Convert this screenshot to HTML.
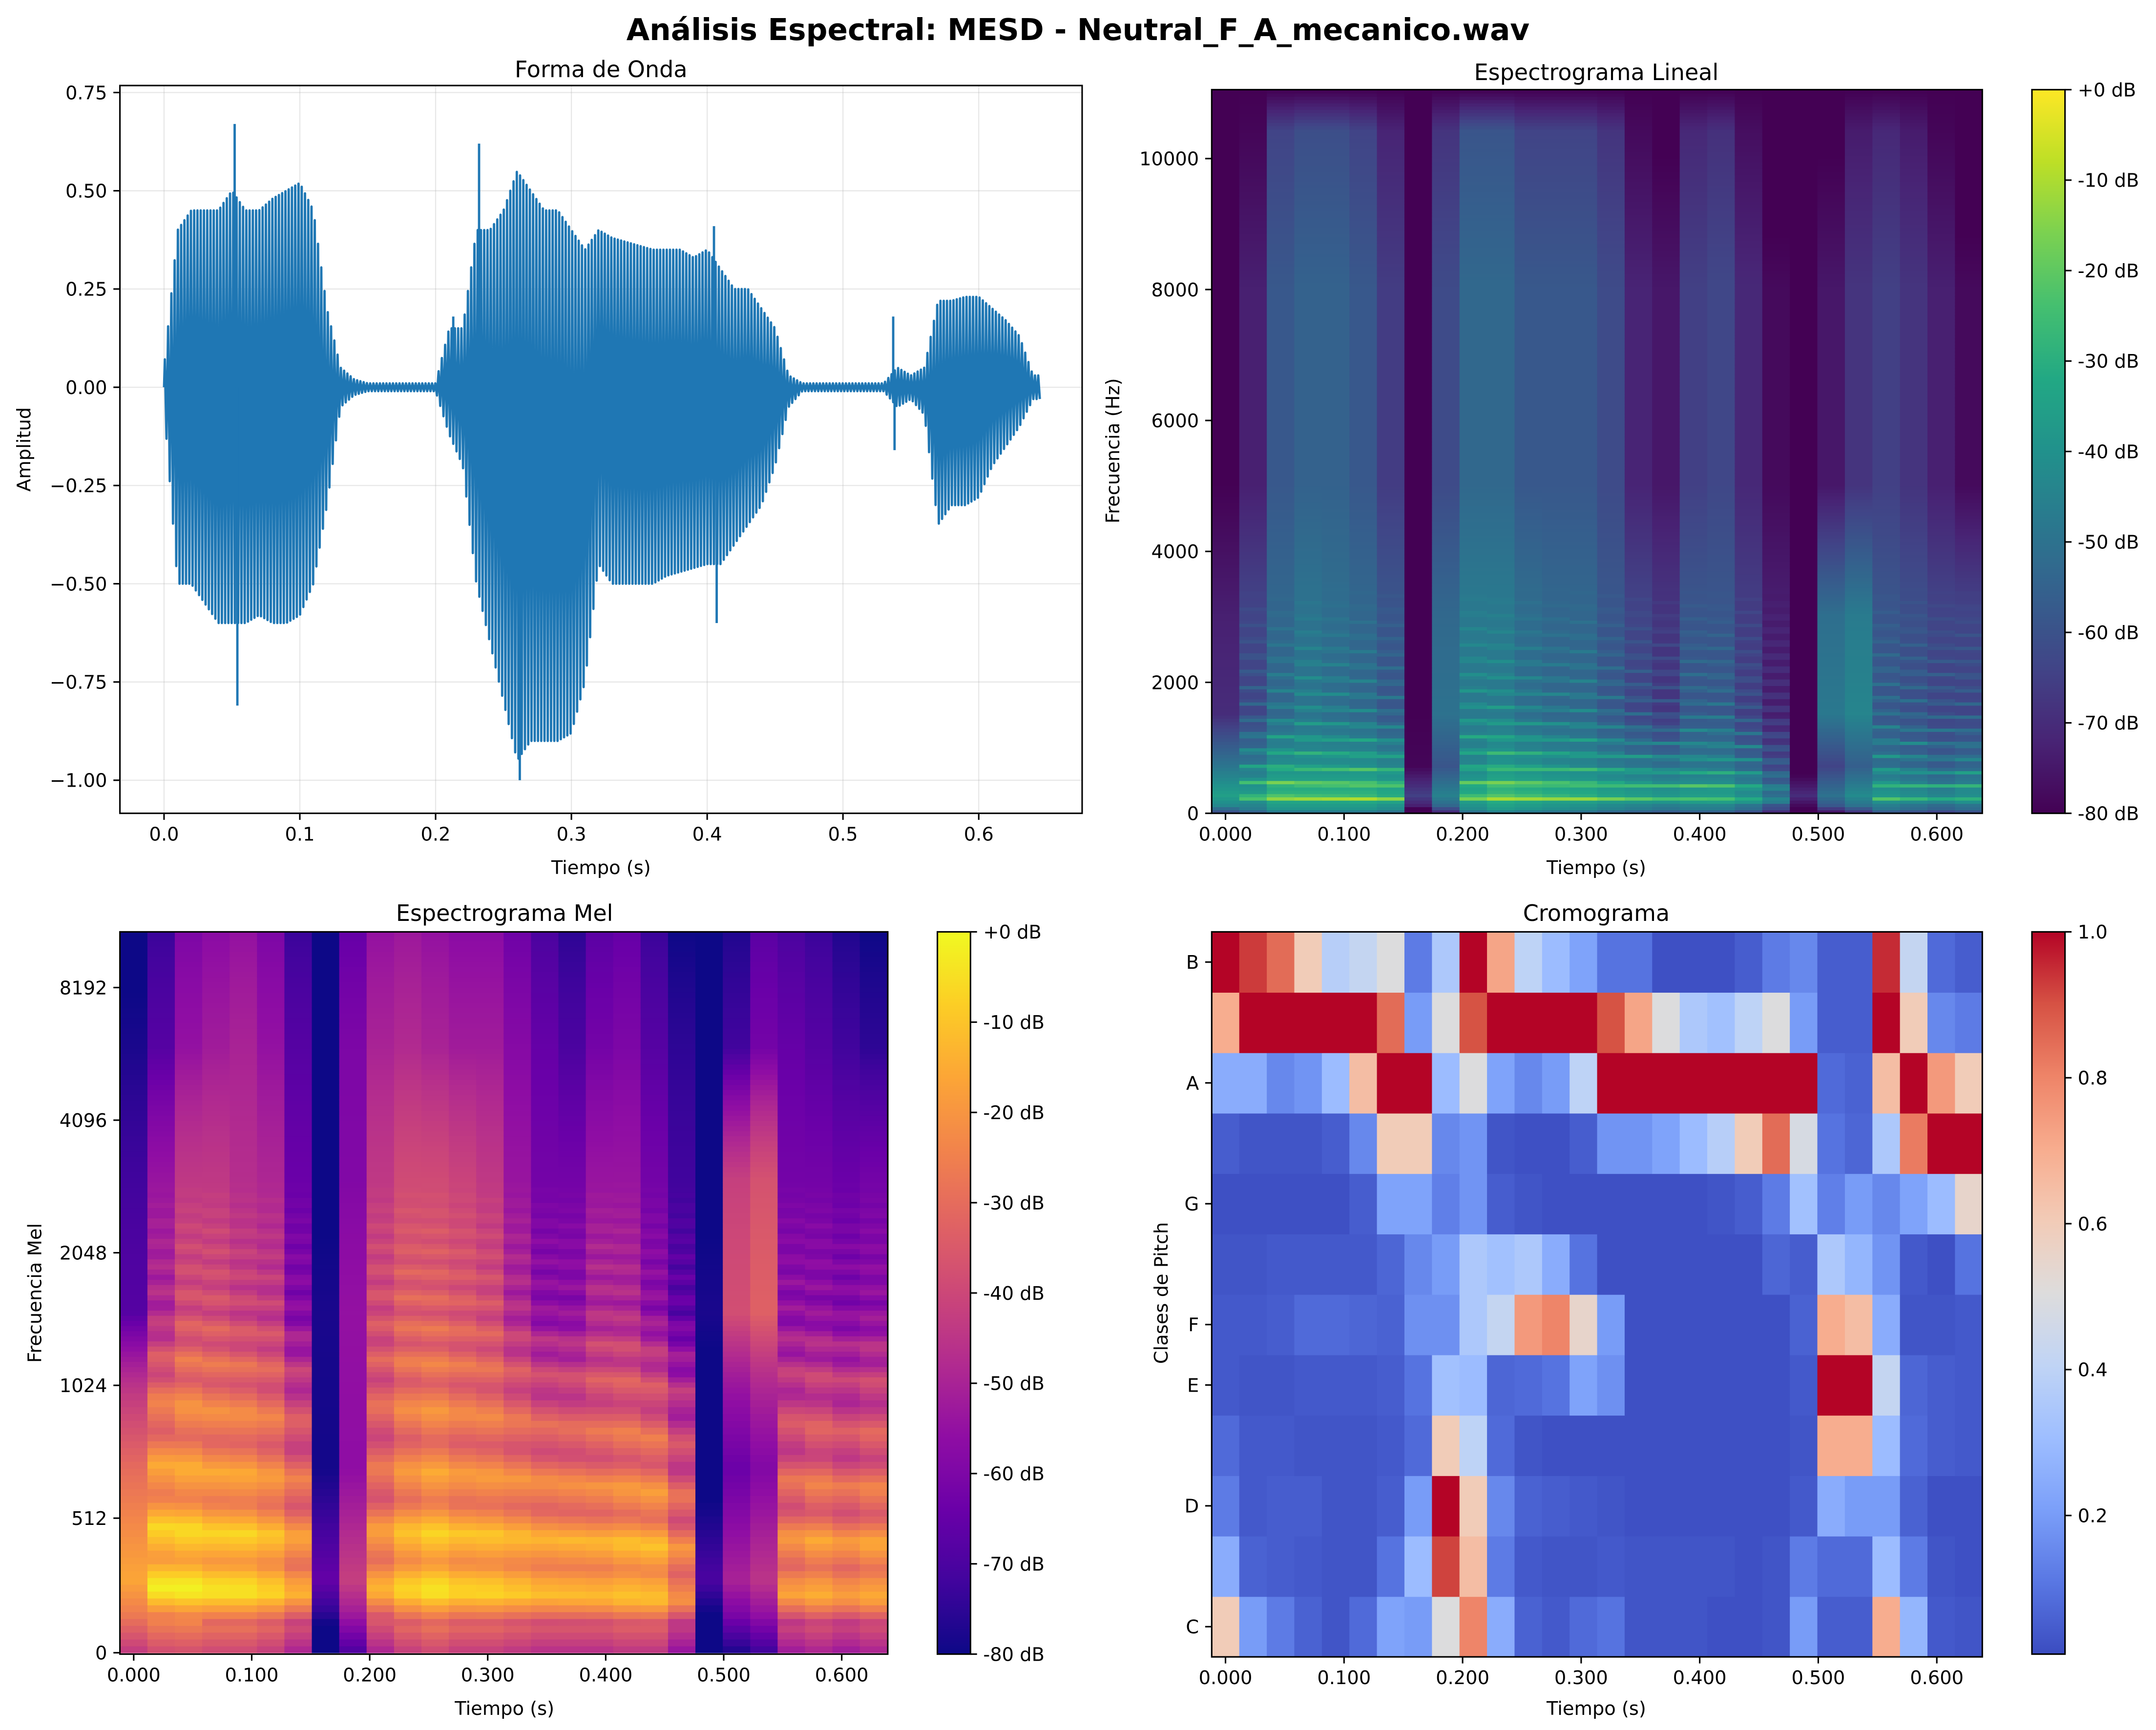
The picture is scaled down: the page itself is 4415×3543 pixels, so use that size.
<!DOCTYPE html>
<html><head><meta charset="utf-8">
<style>
html,body{margin:0;padding:0;background:#fff;}
svg{display:block;font-family:"DejaVu Sans","Liberation Sans",sans-serif;}
</style></head>
<body>
<svg id="fig" xmlns="http://www.w3.org/2000/svg" width="4415" height="3543" viewBox="0 0 1564 1255">
<rect x="0" y="0" width="1564" height="1255" fill="#fff"/>
<text x="782" y="29" text-anchor="middle" font-size="21.7" font-weight="bold">Análisis Espectral: MESD - Neutral_F_A_mecanico.wav</text>
<g id="g-wave"></g>
<g id="g-lin"></g>
<g id="g-mel"></g>
<g id="g-chroma"></g>
</svg>
<script>
// ---------- DATA ----------
const wTimes = [];for(let k=0;k<=64;k++)wTimes.push(k/100);
const wPos = [0.05,0.40,0.45,0.45,0.45,0.50,0.45,0.45,0.48,0.50,0.52,0.45,0.20,0.05,0.02,0.01,0.01,0.01,0.01,0.01,0.01,0.15,0.15,0.40,0.40,0.45,0.55,0.50,0.45,0.45,0.40,0.35,0.40,0.38,0.37,0.36,0.35,0.35,0.35,0.33,0.35,0.30,0.25,0.25,0.20,0.15,0.03,0.01,0.01,0.01,0.01,0.01,0.01,0.01,0.05,0.03,0.05,0.22,0.22,0.23,0.23,0.20,0.17,0.13,0.03];
const wNeg = [-0.05,-0.50,-0.50,-0.55,-0.60,-0.60,-0.60,-0.58,-0.60,-0.60,-0.58,-0.50,-0.30,-0.05,-0.02,-0.01,-0.01,-0.01,-0.01,-0.01,-0.01,-0.12,-0.20,-0.50,-0.65,-0.80,-0.95,-0.90,-0.90,-0.90,-0.88,-0.75,-0.45,-0.50,-0.50,-0.50,-0.50,-0.48,-0.47,-0.46,-0.45,-0.45,-0.40,-0.35,-0.30,-0.20,-0.05,-0.01,-0.01,-0.01,-0.01,-0.01,-0.01,-0.01,-0.05,-0.03,-0.07,-0.35,-0.30,-0.30,-0.28,-0.20,-0.15,-0.10,-0.03];
const spikeT = [0.052,0.054,0.213,0.232,0.262,0.405,0.407,0.537,0.538];
const spikeV = [0.67,-0.81,0.18,0.62,-1.0,0.41,-0.60,0.18,-0.16];
const wXTicks = [0,0.1,0.2,0.3,0.4,0.5,0.6];
const wXLabels = ["0.0","0.1","0.2","0.3","0.4","0.5","0.6"];
const wYTicks = [0.75,0.5,0.25,0,-0.25,-0.5,-0.75,-1.0];
const wYLabels = ["0.75","0.50","0.25","0.00","\u22120.25","\u22120.50","\u22120.75","\u22121.00"];

const linLow  = [-35,-30,-22,-22,-22,-22,-25,-65,-45,-25,-20,-22,-24,-25,-28,-30,-32,-30,-30,-35,-45,-70,-50,-42,-32,-35,-38,-35];
const linMid  = [-70,-60,-50,-46,-48,-50,-55,-80,-50,-44,-44,-48,-50,-50,-55,-60,-64,-55,-55,-62,-70,-80,-48,-44,-55,-57,-60,-60];
const linHigh = [-80,-73,-58,-55,-55,-58,-66,-80,-62,-53,-53,-58,-58,-58,-62,-72,-75,-65,-63,-71,-78,-80,-75,-68,-65,-68,-73,-78];
const pitchF0 = [0,240,235,230,228,225,222,0,0,235,232,230,228,225,222,218,215,212,210,205,200,0,0,0,220,215,212,210];
const melLow  = [-16,-11,-10,-12,-12,-15,-22,-65,-42,-22,-15,-12,-15,-15,-17,-19,-19,-19,-17,-17,-27,-70,-50,-45,-25,-22,-25,-22];
const melMid  = [-68,-50,-40,-40,-43,-45,-60,-78,-55,-40,-35,-35,-37,-40,-50,-58,-58,-50,-50,-58,-68,-78,-38,-33,-58,-58,-60,-58];
const melHigh = [-78,-68,-55,-52,-50,-55,-68,-80,-60,-50,-48,-50,-52,-52,-58,-65,-70,-62,-60,-68,-75,-80,-72,-62,-65,-68,-72,-75];
const specXTicks = [0,0.1,0.2,0.3,0.4,0.5,0.6];
const specXLabels = ["0.000","0.100","0.200","0.300","0.400","0.500","0.600"];
const linYTicks = [0,2000,4000,6000,8000,10000];
const melYTicks = [0,512,1024,2048,4096,8192];
const dbTicks = [0,-10,-20,-30,-40,-50,-60,-70,-80];

const chromaB  = [1,.93,.85,.6,.38,.42,.5,.12,.35,1,.72,.4,.3,.22,.1,.1,.02,.02,.02,.05,.12,.15,.05,.05,.95,.42,.08,.05];
const chromaAs = [.7,1,1,1,1,1,.85,.2,.5,.9,1,1,1,1,.9,.72,.5,.35,.32,.4,.5,.2,.05,.05,1,.6,.15,.12];
const chromaA  = [.25,.25,.15,.18,.3,.65,1,1,.3,.5,.22,.15,.2,.4,1,1,1,1,1,1,1,1,.08,.06,.65,1,.75,.6];
const chromaGs = [.05,.03,.03,.03,.05,.15,.6,.6,.15,.18,.03,.02,.02,.05,.18,.18,.22,.3,.38,.6,.85,.48,.1,.07,.35,.82,1,1];
const chromaG  = [.02,.02,.02,.02,.02,.05,.22,.22,.13,.18,.05,.03,.02,.02,.02,.02,.02,.02,.03,.05,.12,.32,.13,.2,.15,.22,.3,.55];
const chromaFs = [.03,.03,.04,.04,.04,.04,.07,.15,.2,.35,.32,.35,.25,.1,.02,.02,.02,.02,.02,.02,.07,.05,.35,.28,.18,.04,.02,.1];
const chromaF  = [.04,.04,.05,.08,.08,.07,.06,.17,.17,.35,.42,.75,.8,.55,.2,.02,.02,.02,.02,.02,.02,.06,.7,.65,.25,.03,.03,.04];
const chromaE  = [.04,.03,.03,.04,.04,.04,.05,.1,.32,.3,.07,.08,.1,.22,.17,.02,.02,.02,.02,.02,.02,.04,1,1,.42,.07,.05,.04];
const chromaDs = [.08,.04,.04,.03,.03,.03,.04,.08,.6,.4,.08,.03,.02,.02,.02,.02,.02,.02,.02,.02,.02,.03,.7,.7,.3,.08,.05,.04];
const chromaD  = [.12,.04,.05,.05,.03,.03,.05,.2,1,.6,.15,.06,.05,.04,.03,.02,.02,.02,.02,.02,.02,.04,.25,.2,.2,.06,.02,.02];
const chromaCs = [.25,.06,.05,.04,.03,.03,.1,.3,.92,.65,.12,.04,.03,.03,.04,.03,.03,.03,.03,.02,.03,.12,.08,.08,.3,.12,.03,.02];
const chromaC  = [.6,.2,.12,.06,.03,.08,.22,.2,.5,.8,.25,.06,.04,.08,.1,.03,.03,.03,.02,.02,.03,.2,.05,.05,.7,.28,.04,.03];
const chromaLabels = ["C","","D","","E","F","","G","","A","","B"];
const chromaCbTicks = [0.2,0.4,0.6,0.8,1.0];

// ---------- HELPERS ----------
const NS="http://www.w3.org/2000/svg";
function mk(parent,tag,attrs,text){const e=document.createElementNS(NS,tag);for(const k in attrs)e.setAttribute(k,attrs[k]);if(text!==undefined)e.textContent=text;parent.appendChild(e);return e;}
function hex(h){return [parseInt(h.substr(1,2),16),parseInt(h.substr(3,2),16),parseInt(h.substr(5,2),16)];}
function makeCmap(list){const c=list.map(hex);return function(v){v=Math.max(0,Math.min(1,v));const p=v*(c.length-1);const i=Math.min(c.length-2,Math.floor(p));const f=p-i;const a=c[i],b=c[i+1];return "rgb("+Math.round(a[0]+(b[0]-a[0])*f)+","+Math.round(a[1]+(b[1]-a[1])*f)+","+Math.round(a[2]+(b[2]-a[2])*f)+")";};}
const viridis=makeCmap(["#440154","#482475","#414487","#355f8d","#2a788e","#21918c","#22a884","#44bf70","#7ad151","#bddf26","#fde725"]);
const plasma=makeCmap(["#0d0887","#41049d","#6a00a8","#8f0da4","#b12a90","#cc4778","#e16462","#f2844b","#fca636","#fcce25","#f0f921"]);
const coolwarm=makeCmap(["#3b4cc0","#5977e3","#7b9ff9","#9ebeff","#c0d4f5","#dddcdc","#f2cbb7","#f7ac8e","#ee8468","#d65244","#b40426"]);
const FS=13.6, TL=4.75;

function frame(g,x0,y0,x1,y1,name){const r=mk(g,"rect",{x:x0,y:y0,width:x1-x0,height:y1-y0,fill:"none",stroke:"#000","stroke-width":1.1});}
function xTick(g,x,y,label){mk(g,"line",{x1:x,y1:y,x2:x,y2:y+TL,stroke:"#000","stroke-width":1.1});const t=mk(g,"text",{x:x,y:y+TL+4.75+10.3,"text-anchor":"middle","font-size":FS},label);}
function yTick(g,x,y,label){mk(g,"line",{x1:x-TL,y1:y,x2:x,y2:y,stroke:"#000","stroke-width":1.1});const t=mk(g,"text",{x:x-TL-4.5,y:y+4.9,"text-anchor":"end","font-size":FS},label);}
function rTick(g,x,y,label){mk(g,"line",{x1:x,y1:y,x2:x+TL,y2:y,stroke:"#000","stroke-width":1.1});const t=mk(g,"text",{x:x+TL+4.5,y:y+4.9,"text-anchor":"start","font-size":FS},label);}
function title(g,x,y,s){const t=mk(g,"text",{x:x,y:y,"text-anchor":"middle","font-size":16.3},s);}
function xlabel(g,x,y,s){const t=mk(g,"text",{x:x,y:y,"text-anchor":"middle","font-size":FS},s);}
function ylabel(g,x,y,s){const t=mk(g,"text",{x:x,y:y,"text-anchor":"middle","font-size":FS,transform:"rotate(-90 "+x+" "+y+")"},s);}
function colorbar(g,x0,y0,x1,y1,cmap,id){const defs=mk(g,"defs",{});const lg=mk(defs,"linearGradient",{id:id,x1:0,y1:1,x2:0,y2:0});for(let k=0;k<=20;k++)mk(lg,"stop",{offset:(k/20),"stop-color":cmap(k/20)});const r=mk(g,"rect",{x:x0,y:y0,width:x1-x0,height:y1-y0,fill:"url(#"+id+")"});frame(g,x0,y0,x1,y1,'colorbar-frame');}
function interp(xs,ys,x){if(x<=xs[0])return ys[0];for(let k=1;k<xs.length;k++){if(x<=xs[k]){const f=(x-xs[k-1])/(xs[k]-xs[k-1]);return ys[k-1]+(ys[k]-ys[k-1])*f;}}return ys[ys.length-1];}
function harm(f,f0,lim,amp,sharp){if(!f0||f>lim)return 0;const r=f/f0;if(Math.round(r)<1)return 0;const d=Math.abs(r-Math.round(r));const fade=1-f/lim;return amp*fade*Math.max(-0.4,1-sharp*d);}
const HOP=0.02322, NF=28;

// ---------- WAVEFORM ----------
(function(){
 const g=document.getElementById("g-wave");
 const X0=87,X1=785,Y0=62,Y1=590;
 const xs=t=>119+t*985, ys=v=>566-(v+1)*285.1;
 wXTicks.forEach(t=>{const l=mk(g,"line",{x1:xs(t),y1:Y0,x2:xs(t),y2:Y1,stroke:"#b0b0b0","stroke-opacity":0.3,"stroke-width":0.8});});
 wYTicks.forEach(v=>{const l=mk(g,"line",{x1:X0,y1:ys(v),x2:X1,y2:ys(v),stroke:"#b0b0b0","stroke-opacity":0.3,"stroke-width":0.8});});
 let pts=[];let sgn=1;const step=0.0012;const tEnd=wTimes[wTimes.length-1]+0.005;
 pts.push(xs(0).toFixed(2)+","+ys(0).toFixed(2));
 for(let t=step/2;t<tEnd;t+=step){const v=sgn>0?interp(wTimes,wPos,t):interp(wTimes,wNeg,t);pts.push(xs(t).toFixed(2)+","+ys(v).toFixed(2));sgn=-sgn;}
 const pl=mk(g,"polyline",{points:pts.join(" "),fill:"none",stroke:"#1f77b4","stroke-width":1.7,"stroke-linejoin":"round"});
 
 spikeT.forEach((t,k)=>{const l=mk(g,"line",{x1:xs(t),y1:ys(0),x2:xs(t),y2:ys(spikeV[k]),stroke:"#1f77b4","stroke-width":1.7});});
 frame(g,X0,Y0,X1,Y1,'waveform-axes');
 wXTicks.forEach((t,k)=>xTick(g,xs(t),Y1,wXLabels[k]));
 wYTicks.forEach((v,k)=>yTick(g,X0,ys(v),wYLabels[k]));
 title(g,436,56,"Forma de Onda");xlabel(g,436,634,"Tiempo (s)");ylabel(g,22,326,"Amplitud");
})();

// ---------- LINEAR SPECTROGRAM ----------
(function(){
 const g=document.getElementById("g-lin");
 const X0=879,X1=1438,Y0=65,Y1=590;
 const xs=t=>889+t*860, ys=f=>590-f*0.0475;
 const cells=mk(g,"g",{});
 const fA=[0,100,250,700,1500,3000,5000,8000,10400,11025];
 for(let i=0;i<NF;i++){
  const xa=Math.max(X0,xs((i-0.5)*HOP)),xb=Math.min(X1,xs((i+0.5)*HOP));
  const vA=[linLow[i]-25,linLow[i]-8,linLow[i],linLow[i]-14,linMid[i],linMid[i]-3,linHigh[i],linHigh[i],linHigh[i]-6,-80];
  for(let f=0;f<11025;f+=50){
   let v=interp(fA,vA,f)+harm(f+25,pitchF0[i],3500,16,6);
   v=Math.max(-80,Math.min(0,v));
   const yb=ys(f),yt=Math.max(Y0,ys(f+50));
   const r=mk(cells,"rect",{x:xa.toFixed(2),y:yt.toFixed(2),width:(xb-xa+0.3).toFixed(2),height:(yb-yt+0.3).toFixed(2),fill:viridis((v+80)/80)});
   
   
  }
 }
 frame(g,X0,Y0,X1,Y1,'linear-spectrogram-axes');
 specXTicks.forEach((t,k)=>xTick(g,xs(t),Y1,specXLabels[k]));
 linYTicks.forEach(f=>yTick(g,X0,ys(f),String(f)));
 title(g,1158,58,"Espectrograma Lineal");xlabel(g,1158,634,"Tiempo (s)");ylabel(g,812,327,"Frecuencia (Hz)");
 colorbar(g,1474,65,1498,590,viridis,"cbv");
 dbTicks.forEach(d=>rTick(g,1498,65-d*(525/80),(d===0?"+0":"-"+(-d))+" dB"));
})();

// ---------- MEL SPECTROGRAM ----------
(function(){
 const g=document.getElementById("g-mel");
 const X0=87,X1=644,Y0=676,Y1=1200;
 const xs=t=>97+t*856;
 const pos=f=>f<1000?f/1000*190.7:190.7+Math.log2(f/1000)*96.2;
 const ys=f=>Math.max(Y0,1199-pos(f));
 const hz2mel=f=>f<1000?3*f/200:15+27*Math.log(f/1000)/Math.log(6.4);
 const mel2hz=m=>m<15?m*200/3:1000*Math.exp((m-15)*Math.log(6.4)/27);
 const mMax=hz2mel(11025),NB=128;
 const cells=mk(g,"g",{});
 const fA=[0,150,280,700,1500,3000,6000,11025];
 for(let i=0;i<NF;i++){
  const xa=Math.max(X0,xs((i-0.5)*HOP)),xb=Math.min(X1,xs((i+0.5)*HOP));
  const vA=[melLow[i]-28,melLow[i]-10,melLow[i],melLow[i]-14,melMid[i],melMid[i]-4,melHigh[i],melHigh[i]-5];
  for(let b=0;b<NB;b++){
   const fl=mel2hz(b*mMax/NB),fh=mel2hz((b+1)*mMax/NB),fc=(fl+fh)/2;
   let v=interp(fA,vA,fc)+harm(fc,pitchF0[i],3000,14,3);
   v=Math.max(-80,Math.min(0,v));
   const yb=ys(fl),yt=ys(fh);
   const r=mk(cells,"rect",{x:xa.toFixed(2),y:yt.toFixed(2),width:(xb-xa+0.3).toFixed(2),height:(yb-yt+0.3).toFixed(2),fill:plasma((v+80)/80)});
   
   
  }
 }
 frame(g,X0,Y0,X1,Y1,'mel-spectrogram-axes');
 specXTicks.forEach((t,k)=>xTick(g,xs(t),Y1,specXLabels[k]));
 melYTicks.forEach(f=>yTick(g,X0,1199-pos(f),String(f)));
 title(g,366,668,"Espectrograma Mel");xlabel(g,366,1244,"Tiempo (s)");ylabel(g,30,938,"Frecuencia Mel");
 colorbar(g,680,676,704,1200,plasma,"cbp");
 dbTicks.forEach(d=>rTick(g,704,676-d*(524/80),(d===0?"+0":"-"+(-d))+" dB"));
})();

// ---------- CHROMAGRAM ----------
(function(){
 const g=document.getElementById("g-chroma");
 const X0=879,X1=1438,Y0=676,Y1=1202;
 const rows=[chromaC,chromaCs,chromaD,chromaDs,chromaE,chromaF,chromaFs,chromaG,chromaGs,chromaA,chromaAs,chromaB];
 const xs=t=>889+t*860, rh=(Y1-Y0)/12, ry=r=>Y1-(r+1)*rh;
 const vmin=0.01,vmax=1.0;
 const cells=mk(g,"g",{});
 rows.forEach((row,r)=>{row.forEach((v,i)=>{
  const xa=Math.max(X0,xs((i-0.5)*HOP)),xb=Math.min(X1,xs((i+0.5)*HOP));
  const c=mk(cells,"rect",{x:xa.toFixed(2),y:ry(r).toFixed(2),width:(xb-xa+0.3).toFixed(2),height:(rh+0.3).toFixed(2),fill:coolwarm((v-vmin)/(vmax-vmin))});
  
  
 });});
 frame(g,X0,Y0,X1,Y1,'chromagram-axes');
 specXTicks.forEach((t,k)=>xTick(g,xs(t),Y1,specXLabels[k]));
 chromaLabels.forEach((s,r)=>{if(s)yTick(g,X0,ry(r)+rh/2,s);});
 title(g,1158,668,"Cromograma");xlabel(g,1158,1244,"Tiempo (s)");ylabel(g,847,938,"Clases de Pitch");
 colorbar(g,1474,676,1498,1200,coolwarm,"cbc");
 chromaCbTicks.forEach(v=>rTick(g,1498,1200-(v-vmin)/(vmax-vmin)*524,v.toFixed(1)));
})();
</script>
</body></html>
